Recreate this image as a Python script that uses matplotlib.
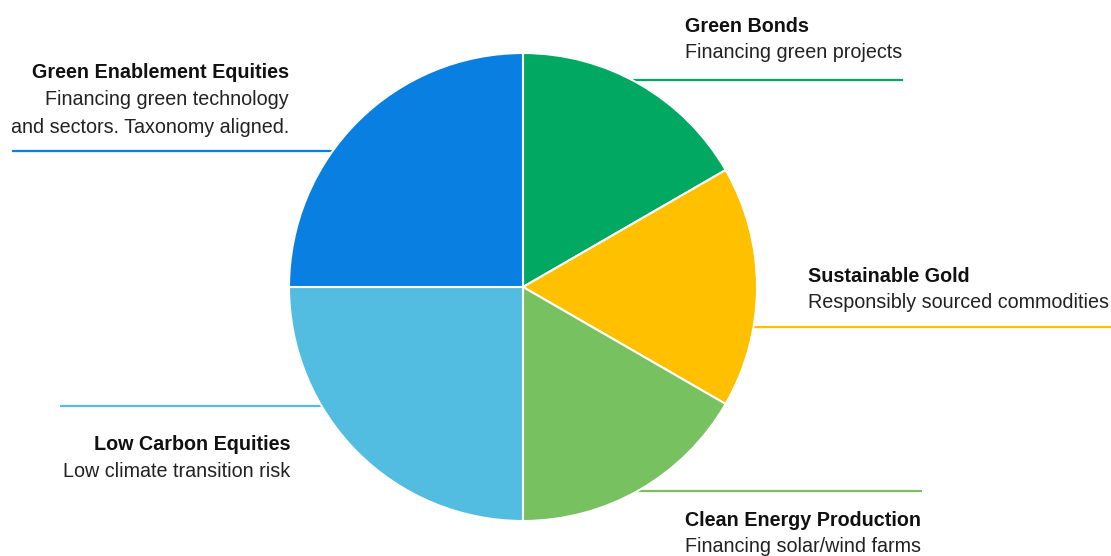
import matplotlib.pyplot as plt

plt.rcParams['font.family'] = ['Liberation Sans', 'DejaVu Sans']

# slices, clockwise from 12 o'clock
names = ["Green Bonds", "Sustainable Gold", "Clean Energy Production",
         "Low Carbon Equities", "Green Enablement Equities"]
descs = ["Financing green projects", "Responsibly sourced commodities",
         "Financing solar/wind farms", "Low climate transition risk",
         "Financing green technology\nand sectors. Taxonomy aligned."]
weights = [2, 2, 2, 3, 3]
colors = ["#00A862", "#FFC000", "#77C160", "#52BDE0", "#087FE1"]

W, H = 1111, 556
fig = plt.figure(figsize=(W / 100, H / 100), dpi=100)
ax = fig.add_axes([0, 0, 1, 1])

# leader lines (image coords): y, x0, x1
leaders = [(80, 600, 903), (327, 700, 1111), (491, 600, 922),
           (406, 60, 400), (151, 12, 400)]
for (y, x0, x1), c in zip(leaders, colors):
    ax.plot([x0, x1], [H - y, H - y], color=c, lw=1.6, zorder=1, solid_capstyle='butt')

ax.pie(weights, colors=colors, startangle=90, counterclock=False,
       center=(523, H - 287), radius=234, frame=True,
       wedgeprops=dict(edgecolor='white', linewidth=1.5, zorder=2))

# label anchors (image coords): x, y of title, alignment
anchors = [(685, 26, 'left'), (808, 276, 'left'), (685, 520, 'left'),
           (290, 445, 'right'), (289, 73, 'right')]
for (x, y, ha), n, d in zip(anchors, names, descs):
    ax.text(x, H - y, n, ha=ha, va='center', fontsize=14.2, fontweight='bold', color='#111111')
    ax.text(x, H - y - 17, d, ha=ha, va='top', fontsize=14.2, color='#222222',
            linespacing=1.62, multialignment='right' if ha == 'right' else 'left')

ax.set_xlim(0, W)
ax.set_ylim(0, H)
ax.set_aspect('equal')
ax.axis('off')
fig.savefig("out.png", dpi=100)
